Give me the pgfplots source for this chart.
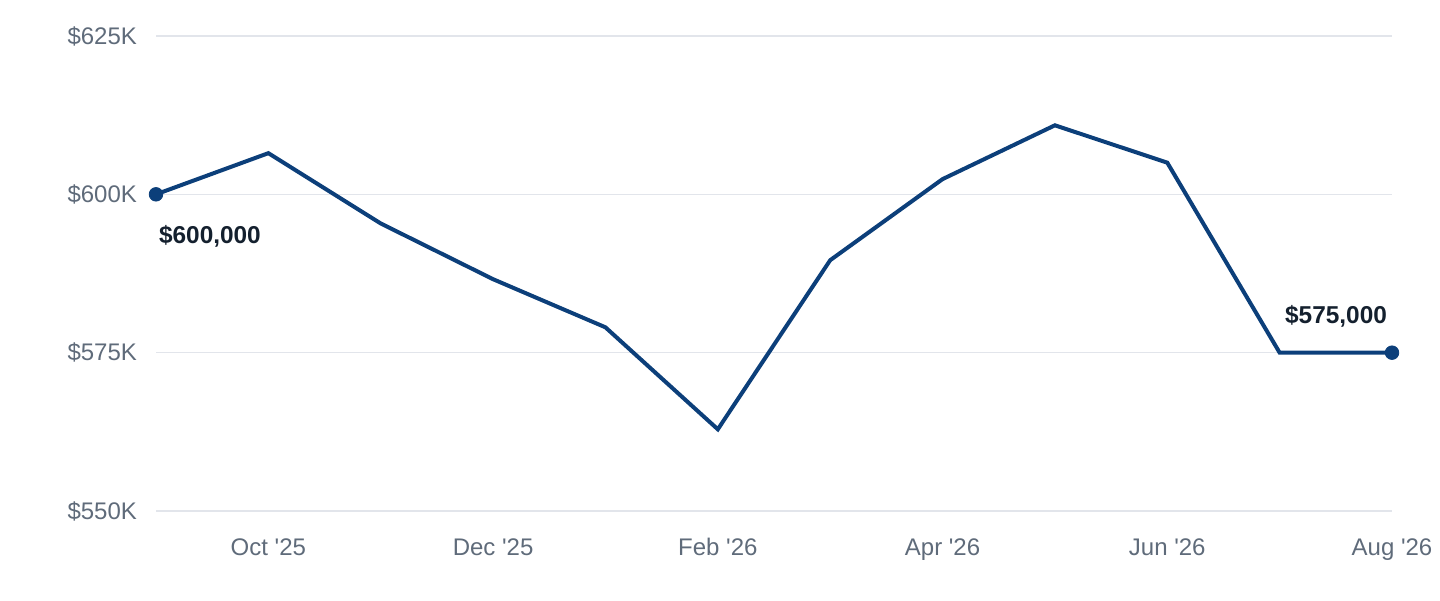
\documentclass[border=0pt]{standalone}
\usepackage{fontspec}
\setmainfont{Liberation Sans}[Ligatures=TeXOff]
\usepackage{pgfplots}
\pgfplotsset{compat=1.18}
\definecolor{lineblue}{RGB}{12,63,122}
\definecolor{tickgray}{RGB}{95,107,122}
\definecolor{gridgray}{RGB}{226,229,235}
\definecolor{labeldark}{RGB}{20,32,46}
\newcommand{\q}{\char"27\relax}
\begin{document}
\begin{tikzpicture}
  \path[use as bounding box] (-78pt,-44.5pt) rectangle (642pt,255.5pt);
  \begin{axis}[
      at={(0,0)}, anchor=south west,
      scale only axis,
      width=618pt, height=237.5pt,
      xmin=0, xmax=11, ymin=550000, ymax=625000,
      scaled y ticks=false,
      axis line style={draw=none},
      major tick style={draw=none},
      ymajorgrids=true,
      grid style={gridgray, line width=0.8pt},
      ytick={550000,575000,600000,625000},
      yticklabels={\$550K,\$575K,\$600K,\$625K},
      xtick={1,3,5,7,9,11},
      xticklabels={Oct \q25,Dec \q25,Feb \q26,Apr \q26,Jun \q26,Aug \q26},
      tick label style={font=\fontsize{12}{14}\selectfont, text=tickgray},
      yticklabel style={xshift=-6pt},
      xticklabel style={text height=8.6pt, text depth=2.5pt, yshift=-10pt},
      clip=false,
    ]
    \addplot[lineblue, line width=2pt, line join=miter] coordinates {
      (0,600000) (1,606500) (2,595400) (3,586600) (4,579000) (5,562900)
      (6,589600) (7,602400) (8,610900) (9,605000) (10,575000) (11,575000)
    };
    \addplot[only marks, mark=*, mark size=3.4pt, lineblue] coordinates {
      (0,600000) (11,575000)
    };
    \node[anchor=west, font=\bfseries\fontsize{12.2}{14}\selectfont, text=labeldark]
      at (axis cs:0,600000) [yshift=-21pt, xshift=-2pt] {\$600,000};
    \node[anchor=east, font=\bfseries\fontsize{12.2}{14}\selectfont, text=labeldark]
      at (axis cs:11,575000) [yshift=18pt, xshift=1pt] {\$575,000};
  \end{axis}
\end{tikzpicture}
\end{document}
